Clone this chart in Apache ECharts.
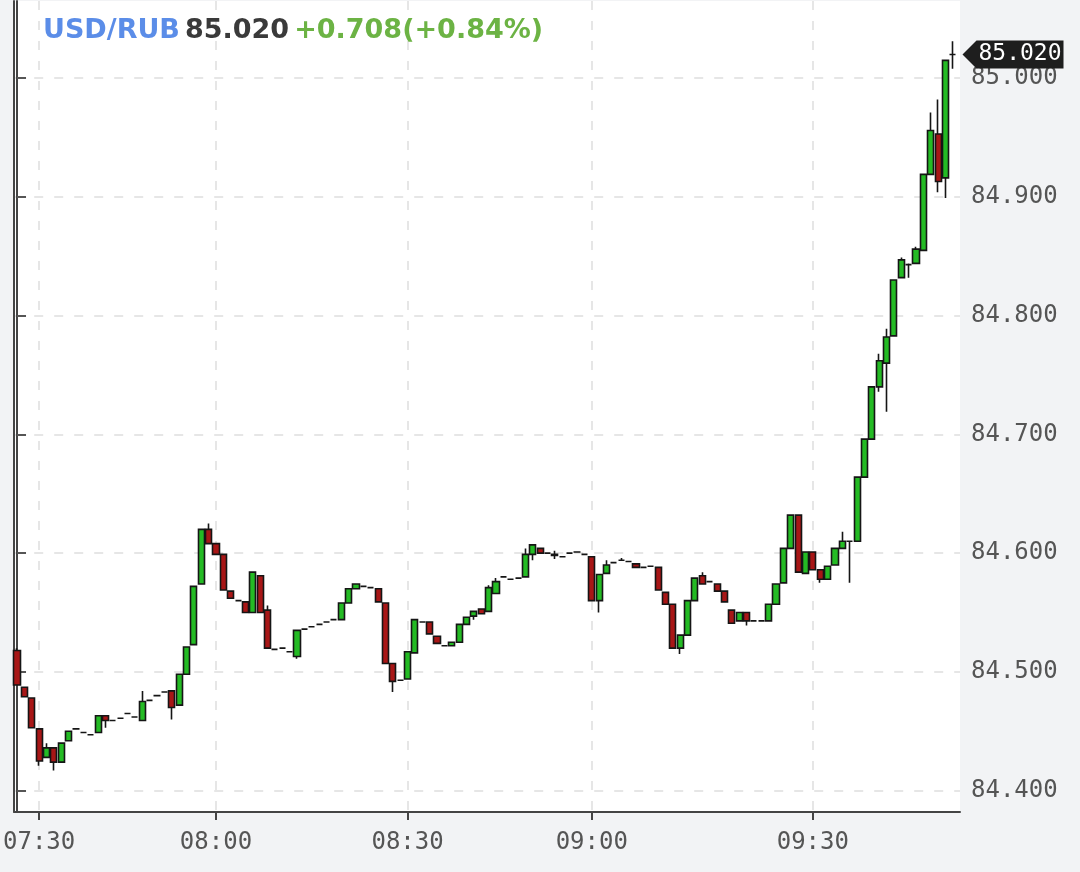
<!DOCTYPE html>
<html>
<head>
<meta charset="utf-8">
<script src="https://cdn.jsdelivr.net/npm/echarts@6/dist/echarts.min.js"></script>
<style>
  html, body { margin: 0; padding: 0; background: #f2f3f5; }
  #chart { width: 1080px; height: 872px; }
</style>
</head>
<body>
<div id="chart"></div>
<script>
// ---- data ----
const pairName = 'USD/RUB';
const lastPrice = 85.020;
const changeText = '+0.708(+0.84%)';

const times = [
  '07:27','07:28','07:29','07:30','07:31','07:32','07:33','07:34','07:35','07:37',
  '07:39','07:40','07:42','07:43','07:45','07:46','07:48','07:50','07:51','07:52',
  '07:53','07:54','07:55','07:56','07:57','07:58','07:59','08:00','08:01','08:02',
  '08:03','08:04','08:05','08:06','08:07','08:08','08:10','08:11','08:12','08:14',
  '08:16','08:18','08:19','08:20','08:21','08:22','08:23','08:24','08:25','08:26',
  '08:27','08:28','08:29','08:30','08:31','08:32','08:33','08:34','08:35','08:36',
  '08:37','08:38','08:39','08:40','08:41','08:42','08:43','08:45','08:47','08:48',
  '08:49','08:51','08:52','08:54','08:55','08:57','08:58','08:59','09:00','09:01',
  '09:02','09:03','09:04','09:05','09:06','09:07','09:08','09:09','09:10','09:11',
  '09:12','09:13','09:14','09:15','09:16','09:17','09:18','09:19','09:20','09:21',
  '09:22','09:23','09:24','09:25','09:26','09:27','09:28','09:29','09:30','09:31',
  '09:32','09:33','09:34','09:35','09:36','09:37','09:38','09:39','09:40','09:41',
  '09:42','09:43','09:44','09:45','09:46','09:47','09:48','09:49'
];

const opens = [
  84.518,84.487,84.478,84.452,84.428,84.436,84.424,84.442,84.452,84.449,
  84.447,84.449,84.463,84.459,84.461,84.465,84.462,84.459,84.476,84.480,
  84.483,84.484,84.472,84.498,84.523,84.574,84.620,84.608,84.599,84.568,
  84.560,84.559,84.550,84.581,84.552,84.519,84.520,84.517,84.513,84.536,
  84.538,84.540,84.542,84.544,84.544,84.558,84.570,84.572,84.571,84.570,
  84.558,84.507,84.493,84.494,84.516,84.542,84.542,84.530,84.522,84.522,
  84.525,84.540,84.547,84.553,84.551,84.566,84.580,84.578,84.579,84.580,
  84.599,84.604,84.600,84.599,84.597,84.600,84.601,84.599,84.597,84.560,
  84.583,84.592,84.594,84.593,84.591,84.588,84.589,84.588,84.567,84.557,
  84.520,84.531,84.560,84.581,84.576,84.574,84.568,84.552,84.543,84.550,
  84.543,84.543,84.543,84.557,84.575,84.604,84.632,84.583,84.601,84.586,
  84.578,84.590,84.604,84.610,84.610,84.664,84.696,84.740,84.760,84.783,
  84.832,84.843,84.844,84.855,84.919,84.953,84.916,85.020
];

const closes = [
  84.489,84.479,84.453,84.425,84.436,84.424,84.440,84.450,84.452,84.449,
  84.447,84.463,84.459,84.459,84.461,84.465,84.462,84.475,84.476,84.480,
  84.483,84.470,84.498,84.521,84.572,84.620,84.608,84.599,84.569,84.562,
  84.560,84.550,84.584,84.550,84.520,84.519,84.520,84.517,84.535,84.536,
  84.538,84.540,84.542,84.544,84.558,84.570,84.574,84.572,84.571,84.559,
  84.507,84.492,84.493,84.517,84.544,84.542,84.532,84.524,84.522,84.525,
  84.540,84.546,84.551,84.549,84.571,84.576,84.580,84.578,84.579,84.599,
  84.607,84.600,84.600,84.598,84.597,84.600,84.601,84.599,84.560,84.582,
  84.590,84.592,84.594,84.593,84.588,84.588,84.589,84.569,84.557,84.520,
  84.531,84.560,84.579,84.574,84.576,84.568,84.559,84.541,84.550,84.543,
  84.543,84.543,84.557,84.574,84.604,84.632,84.584,84.601,84.586,84.578,
  84.589,84.604,84.610,84.610,84.664,84.696,84.740,84.762,84.782,84.830,
  84.847,84.843,84.856,84.919,84.956,84.913,85.015,85.020
];

const lows = [
  84.489,84.479,84.453,84.421,84.428,84.417,84.424,84.442,84.452,84.449,
  84.447,84.449,84.453,84.459,84.461,84.465,84.462,84.459,84.476,84.480,
  84.483,84.460,84.472,84.498,84.523,84.574,84.608,84.599,84.569,84.562,
  84.560,84.550,84.550,84.550,84.520,84.519,84.520,84.517,84.511,84.536,
  84.538,84.540,84.542,84.544,84.544,84.558,84.570,84.572,84.571,84.559,
  84.507,84.483,84.493,84.494,84.516,84.542,84.532,84.524,84.522,84.522,
  84.525,84.540,84.544,84.549,84.551,84.566,84.580,84.578,84.579,84.580,
  84.594,84.600,84.600,84.595,84.597,84.600,84.601,84.599,84.560,84.550,
  84.583,84.592,84.594,84.593,84.588,84.588,84.589,84.569,84.557,84.520,
  84.515,84.531,84.560,84.574,84.576,84.568,84.559,84.541,84.543,84.539,
  84.543,84.543,84.543,84.557,84.575,84.604,84.584,84.583,84.586,84.575,
  84.578,84.590,84.604,84.575,84.610,84.664,84.696,84.736,84.719,84.783,
  84.832,84.832,84.844,84.855,84.919,84.904,84.899,85.008
];

const highs = [
  84.520,84.487,84.478,84.452,84.440,84.436,84.440,84.450,84.452,84.449,
  84.447,84.463,84.463,84.459,84.461,84.465,84.462,84.484,84.476,84.480,
  84.483,84.484,84.498,84.521,84.572,84.620,84.625,84.608,84.599,84.568,
  84.560,84.559,84.584,84.581,84.556,84.519,84.520,84.517,84.535,84.536,
  84.538,84.540,84.542,84.544,84.558,84.570,84.574,84.572,84.571,84.570,
  84.558,84.507,84.493,84.517,84.544,84.542,84.542,84.530,84.522,84.525,
  84.540,84.546,84.551,84.553,84.573,84.579,84.580,84.578,84.579,84.604,
  84.607,84.604,84.600,84.602,84.597,84.600,84.601,84.599,84.597,84.582,
  84.594,84.592,84.596,84.593,84.591,84.588,84.589,84.588,84.567,84.557,
  84.531,84.560,84.579,84.584,84.576,84.574,84.568,84.552,84.550,84.550,
  84.543,84.543,84.557,84.574,84.604,84.632,84.632,84.601,84.601,84.586,
  84.589,84.604,84.618,84.610,84.664,84.696,84.740,84.768,84.789,84.830,
  84.849,84.844,84.858,84.919,84.971,84.982,85.015,85.031
];

const yTicks = [84.4, 84.5, 84.6, 84.7, 84.8, 84.9, 85.0];
const xTickLabels = ['07:30', '08:00', '08:30', '09:00', '09:30'];

// ---- chart ----
const source = times.map((t, k) => [k, opens[k], closes[k], lows[k], highs[k]]);
const xTickIdx = xTickLabels.map(l => times.indexOf(l));
const xMin = -0.38, xMax = 127.97;
const yMin = 84.382, yMax = 85.065;

const gridLine = { show: true, lineStyle: { color: '#dedede', type: [9, 11], width: 1.5 } };
const labelFont = { fontFamily: 'DejaVu Sans Mono', fontSize: 24, color: '#555' };

const chart = echarts.init(document.getElementById('chart'), null, { renderer: 'canvas' });
chart.setOption({
  animation: false,
  backgroundColor: '#f2f3f5',
  title: {
    left: 38, top: 12,
    text: '{a|' + pairName + '} {b|' + lastPrice.toFixed(3) + '} {c|' + changeText + '}',
    textStyle: {
      rich: {
        a: { color: '#5b8de8', fontFamily: 'DejaVu Sans', fontWeight: 'bold', fontSize: 27 },
        b: { color: '#3a3a3a', fontFamily: 'DejaVu Sans', fontWeight: 'bold', fontSize: 27 },
        c: { color: '#6cb344', fontFamily: 'DejaVu Sans', fontWeight: 'bold', fontSize: 27 }
      }
    }
  },
  grid: { left: 12, right: 120, top: 1, bottom: 60, show: true, backgroundColor: '#ffffff', borderWidth: 0 },
  dataset: { source: source },
  xAxis: {
    type: 'value', min: xMin, max: xMax,
    axisLine: { show: true, onZero: false, lineStyle: { color: '#444', width: 2 } },
    axisTick: { show: true, length: 8, customValues: xTickIdx, lineStyle: { color: '#444', width: 2 } },
    axisLabel: { customValues: xTickIdx, margin: 19, formatter: v => times[Math.round(v)], ...labelFont },
    splitLine: gridLine
  },
  yAxis: [{
    type: 'value', position: 'right', min: yMin, max: yMax, scale: true,
    axisLine: { show: true, lineStyle: { color: '#444', width: 2 } },
    axisTick: { show: true, length: 9, customValues: yTicks, lineStyle: { color: '#555', width: 2 } },
    axisLabel: { customValues: yTicks, margin: 11, formatter: v => v.toFixed(3), ...labelFont },
    splitLine: gridLine
  }, {
    type: 'value', position: 'left', min: yMin, max: yMax, scale: true,
    axisLine: { show: true, lineStyle: { color: '#444', width: 2 } },
    axisTick: { show: false }, axisLabel: { show: false }, splitLine: { show: false }
  }],
  series: [{
    type: 'candlestick',
    encode: { x: 0, y: [1, 2, 3, 4] },
    barWidth: 6.6,
    clip: true,
    itemStyle: {
      color: '#24bb24', color0: '#a81616',
      borderColor: '#151515', borderColor0: '#151515', borderWidth: 1.6
    },
    markPoint: {
      symbol: 'path://M0,14 L14,0 L101,0 L101,28 L14,28 Z',
      symbolSize: [101, 28],
      symbolOffset: [53, 0],
      itemStyle: { color: '#1e1e1e' },
      label: {
        show: true, position: 'inside', offset: [7, 0],
        color: '#ffffff', fontFamily: 'DejaVu Sans Mono', fontSize: 23,
        formatter: () => lastPrice.toFixed(3)
      },
      data: [{ coord: [xMax, lastPrice] }]
    }
  }]
});
</script>
</body>
</html>
